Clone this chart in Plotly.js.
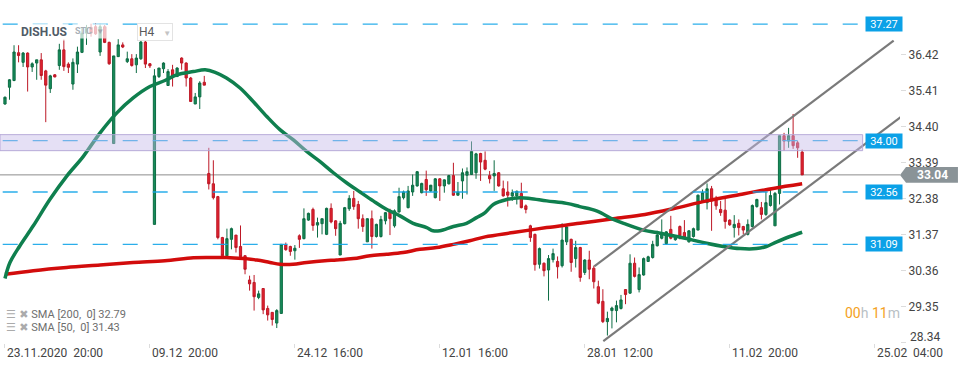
<!DOCTYPE html>
<html><head><meta charset="utf-8">
<script src="https://cdn.plot.ly/plotly-3.0.1.min.js"></script>
<style>html,body{margin:0;padding:0;background:#fff}#chart{width:970px;height:368px}</style>
</head><body><div id="chart"></div>
<script>
// H4 candles, DISH.US
const open  = [35.03,35.50,35.69,36.47,36.20,36.46,36.07,36.18,36.27,35.96,35.46,35.85,36.11,36.55,36.15,35.59,36.15,36.48,37.02,37.18,37.20,36.49,37.20,36.76,33.92,36.36,36.69,36.22,36.30,36.13,36.30,36.77,36.16,31.65,35.80,36.02,35.55,35.99,35.80,36.32,36.18,35.76,35.03,35.23,35.64,33.08,32.79,32.43,31.28,30.77,31.23,31.35,31.03,30.77,30.09,30.02,29.60,29.85,29.29,29.18,28.88,29.15,31.07,31.03,30.91,31.33,31.25,31.77,32.07,31.63,31.67,31.37,32.10,31.75,30.79,31.67,32.09,32.38,32.21,31.81,31.16,31.81,31.31,31.31,31.75,32.00,31.61,32.00,32.40,32.12,32.56,32.73,32.54,32.91,32.59,32.40,32.93,32.73,32.79,33.02,32.47,32.87,33.03,33.05,33.10,33.64,33.45,33.02,33.01,33.10,32.65,32.56,32.45,32.45,32.52,32.17,31.61,31.37,30.53,30.56,30.37,30.66,30.61,30.49,31.16,31.23,30.69,31.00,30.30,30.65,30.42,29.90,29.49,28.92,29.23,29.23,29.29,29.82,29.72,30.56,29.82,30.23,30.61,30.72,31.05,31.26,31.11,31.51,31.22,31.59,31.42,31.16,31.31,31.49,32.28,32.26,32.65,32.35,32.07,32.05,31.77,31.56,31.68,31.59,31.37,31.59,32.15,32.12,31.93,32.18,31.61,32.52,34.14,33.99,34.14,33.94,33.68];
const high  = [35.24,35.73,36.68,36.68,36.49,36.48,36.20,36.27,36.46,35.99,35.85,35.87,36.72,36.85,36.20,36.31,36.64,37.18,37.25,37.28,37.30,37.28,37.25,36.78,36.38,36.85,36.76,36.50,36.43,36.43,36.80,36.94,36.18,36.01,36.04,36.20,36.01,36.13,36.06,36.34,36.20,35.79,35.34,35.67,35.82,33.80,33.45,32.45,31.30,31.53,31.56,31.35,31.62,30.79,30.21,30.23,29.79,29.85,29.37,29.18,29.27,31.09,31.14,31.05,31.07,31.37,32.10,31.98,32.12,31.84,31.81,32.12,32.24,31.77,31.75,32.14,32.47,32.59,32.31,31.93,31.82,32.04,31.67,31.89,32.00,32.09,32.07,32.68,32.60,32.73,33.05,33.15,32.82,33.16,32.76,32.95,32.95,32.91,33.04,33.38,32.84,33.22,33.25,33.98,33.66,33.66,33.70,33.15,33.45,33.12,32.88,32.86,32.63,32.60,32.82,32.21,31.64,31.39,31.00,30.58,30.79,30.97,30.75,31.68,31.63,31.25,31.19,31.02,30.67,30.91,30.49,30.07,29.83,29.20,29.34,29.51,29.67,29.83,30.81,30.72,30.44,30.72,30.77,31.19,31.47,31.79,31.46,31.89,31.33,31.62,31.77,31.49,31.56,32.49,32.63,32.80,32.73,32.45,32.31,32.37,31.79,31.91,31.79,31.61,31.79,32.21,32.37,32.28,32.56,32.63,32.56,34.14,34.22,34.36,34.75,33.99,33.75];
const low   = [35.01,35.15,35.67,36.20,36.07,35.38,35.93,35.71,35.71,34.52,35.34,35.78,35.99,35.96,35.90,35.43,35.90,36.46,36.69,36.92,36.97,36.38,36.74,36.13,33.92,36.35,36.60,36.18,36.08,35.90,36.27,36.04,36.04,31.65,35.76,35.90,35.55,35.52,35.79,35.99,35.52,35.10,35.03,34.89,35.56,32.63,32.35,31.23,30.72,30.75,30.95,30.86,30.72,30.25,29.79,29.23,29.55,29.13,28.95,28.81,28.74,29.15,30.91,30.77,30.66,30.99,31.23,31.75,31.47,31.28,31.37,31.35,31.68,31.33,30.79,31.65,32.03,32.06,31.53,31.44,31.16,30.97,31.28,31.28,31.65,31.35,31.56,31.98,32.35,32.10,32.45,32.71,32.52,32.45,32.56,32.38,32.31,32.54,32.77,32.45,32.46,32.37,32.49,33.04,32.93,32.87,33.17,32.80,32.59,32.71,32.43,32.15,32.31,32.21,32.10,31.96,31.16,30.35,30.41,30.19,29.51,30.58,30.13,30.44,31.07,30.32,30.44,30.04,30.23,30.11,29.85,29.41,28.88,28.53,28.73,28.90,29.26,29.41,29.70,30.16,29.74,30.21,30.60,30.69,31.03,31.23,31.08,31.23,31.19,31.23,31.23,31.14,31.28,31.49,32.26,32.07,31.47,32.06,31.89,31.53,31.61,31.28,31.34,31.37,31.34,31.56,32.12,31.79,31.89,32.15,31.61,32.21,33.72,33.80,33.77,33.52,33.04];
const close = [35.22,35.71,36.49,36.39,36.46,36.07,36.16,36.27,35.83,35.56,35.82,35.79,36.55,36.08,36.06,36.20,36.49,37.02,37.16,37.02,37.00,37.20,36.76,36.16,36.38,36.69,36.63,36.30,36.11,36.32,36.77,36.15,36.10,35.82,36.04,36.18,35.94,35.79,36.04,36.18,35.76,35.10,35.23,35.62,35.56,32.79,32.40,31.28,30.77,31.25,31.53,31.00,30.74,30.39,29.98,29.62,29.70,29.25,29.11,28.98,29.23,31.09,30.94,30.89,30.98,31.23,31.81,31.96,31.62,31.70,31.81,32.10,31.72,31.53,31.68,32.12,32.38,32.15,31.81,31.59,31.81,31.31,31.65,31.79,31.98,31.81,32.03,32.43,32.56,32.59,32.75,33.13,32.80,32.62,32.75,32.93,32.73,32.90,33.02,32.47,32.56,33.10,33.13,33.70,33.63,33.40,33.20,32.93,33.08,32.73,32.45,32.47,32.54,32.58,32.12,32.07,31.28,30.52,30.97,30.35,30.69,30.83,30.46,31.21,31.58,30.58,31.00,30.16,30.65,30.39,30.04,29.44,28.92,29.01,29.30,29.37,29.53,29.68,30.56,30.19,30.24,30.69,30.74,31.09,31.35,31.42,31.44,31.26,31.30,31.33,31.28,31.47,31.53,32.47,32.54,32.65,32.31,32.17,31.98,31.73,31.64,31.65,31.56,31.49,31.65,32.18,32.35,31.93,32.26,32.46,32.52,34.14,33.99,34.14,33.86,33.80,33.04];

const sma200Idx = [0,6.25,13.6,21,28.3,35.3,41.6,45.3,48.9,52.6,55.6,58.5,60.7,63.6,66.6,70.6,73.2,76.9,80.6,84.3,87.9,91.6,95.3,99,102.6,106,112.2,119.6,126.9,134.3,141.3,147.5,154.9,162.3,169.6,176];
const sma200Val = [30.25,30.35,30.44,30.51,30.58,30.63,30.71,30.72,30.72,30.69,30.65,30.58,30.53,30.53,30.58,30.63,30.65,30.69,30.77,30.81,30.86,30.95,31.00,31.09,31.19,31.30,31.42,31.56,31.68,31.81,31.93,32.09,32.31,32.49,32.66,32.79];
const sma50Idx = [0,1.1,3.3,6.25,9.9,13.6,17.3,21,24.7,28.3,32,35.3,37.9,41.6,44.2,46.4,48.9,51.9,54.8,57.8,60.7,63.6,66.6,69.5,72.5,75.4,78.4,81.3,84.3,87.2,90.1,93.1,94.5,96,99,101.9,104.1,106,107.8,110.8,113.7,115.9,119.6,124,126.9,130.6,134.3,137.2,140.9,143.9,147.5,151.2,154.9,158.6,162.3,165.9,168.1,170.4,173.3,176];
const sma50Val = [30.13,30.58,31.05,31.61,32.35,33.00,33.56,34.22,34.78,35.20,35.52,35.69,35.85,35.94,35.99,35.92,35.76,35.48,35.10,34.68,34.31,34.03,33.70,33.42,33.10,32.82,32.56,32.31,32.07,31.89,31.68,31.56,31.47,31.47,31.59,31.68,31.84,31.98,32.21,32.35,32.40,32.38,32.31,32.24,32.15,32.03,31.79,31.65,31.49,31.42,31.33,31.23,31.12,31.03,30.97,30.97,31.03,31.16,31.31,31.43];

const chanUpperIdx = [130.1,196.2], chanUpperVal = [30.47,36.81];
const chanLowerIdx = [132.1,197.8], chanLowerVal = [28.37,34.67];

const levels = [37.27,34.00,32.56,31.09];
const zoneLow = 33.72, zoneHigh = 34.17;
const lastPrice = 33.04;
const yTicks = [28.34,29.35,30.36,31.37,32.38,33.39,34.40,35.41,36.42];
const xTickIdx = [0,32,64,96,128,160,192];
const xTickText = ['23.11.2020\u00a0 20:00','09.12\u00a0 20:00','24.12\u00a0 16:00','12.01\u00a0 16:00','28.01\u00a0 12:00','11.02\u00a0 20:00','25.02\u00a0 04:00'];
const legendLines = ['SMA [200,\u00a0 0] 32.79','SMA [50,\u00a0 0] 31.43'];
const symbol = 'DISH.US', sub = 'STC', tf = 'H4';

const idx = open.map((_, i) => i);
const F = 'Roboto, "Open Sans", sans-serif';
const YR = [28.32, 37.95];
const PH = 343; // plot height px
const py = px => 1 - px / PH;
const pv = v => (v - YR[0]) / (YR[1] - YR[0]);

const traces = [
  {type:'candlestick', x: idx, open, high, low, close, whiskerwidth:0, hoverinfo:'skip',
   increasing:{line:{color:'#0d6c44', width:1}, fillcolor:'#168c5a'},
   decreasing:{line:{color:'#bd1826', width:1}, fillcolor:'#e2222f'}},
  {type:'scatter', mode:'lines', x: sma200Idx, y: sma200Val, line:{color:'#d20c0c', width:3.5, shape:'spline'}, hoverinfo:'skip'},
  {type:'scatter', mode:'lines', x: sma50Idx, y: sma50Val, line:{color:'#0f7f4e', width:3.5, shape:'spline'}, hoverinfo:'skip'},
  {type:'scatter', mode:'lines', x: chanUpperIdx, y: chanUpperVal, line:{color:'#7a7a7a', width:2.2}, hoverinfo:'skip'},
  {type:'scatter', mode:'lines', x: chanLowerIdx, y: chanLowerVal, line:{color:'#7a7a7a', width:2.2}, hoverinfo:'skip'}
];

const shapes = [
  {type:'line', xref:'paper', x0:0, x1:1, yref:'y', y0:lastPrice, y1:lastPrice, line:{color:'#8c8c8c', width:1}, layer:'below'}
];
levels.forEach(lv => shapes.push({type:'line', xref:'paper', x0:0.003, x1:0.959, yref:'y', y0:lv, y1:lv,
  line:{color:'rgba(20,165,232,0.9)', width:1.3, dash:'15px,15px'}, layer:'above'}));
shapes.push({type:'rect', xref:'paper', x0:0, x1:0.9585, yref:'y', y0:zoneLow, y1:zoneHigh,
  fillcolor:'rgba(198,186,232,0.45)', line:{color:'rgba(178,164,214,0.9)', width:1}, layer:'above'});
const hh = 0.22;
const pT = pv(lastPrice + hh), pM = pv(lastPrice), pB = pv(lastPrice - hh);
shapes.push({type:'path', xref:'paper', yref:'paper',
  path:`M 1,${pM} L 1.0067,${pT} L 1.0644,${pT} L 1.0644,${pB} L 1.0067,${pB} Z`,
  fillcolor:'#8a9397', line:{width:0}, layer:'above'});

const annotations = [];
xTickIdx.forEach((v, k) => annotations.push({x:v, xref:'x', y:0, yref:'paper', yanchor:'top', xanchor:'left', yshift:-1,
  text:xTickText[k], showarrow:false, font:{family:F, size:12, color:'#444'}}));
// lowest y tick label drawn slightly raised (as in the source)
annotations.push({x:1, xref:'paper', y:yTicks[0], yref:'y', xanchor:'left', xshift:8, yshift:5, text:yTicks[0].toFixed(2),
  showarrow:false, font:{family:F, size:12, color:'#444'}});
levels.forEach(lv => annotations.push({x:0.982, xref:'paper', xanchor:'center', y:lv, yref:'y', text:lv.toFixed(2), showarrow:false,
  font:{family:F, size:11, color:'#fff'}, bgcolor:'#0ba1e7', borderpad:1, width:34, height:12}));
annotations.push({x:1.0356, xref:'paper', xanchor:'center', y:lastPrice, yref:'y', text:'<b>'+lastPrice.toFixed(2)+'</b>', showarrow:false,
  font:{family:F, size:12, color:'#fff'}});
// header
annotations.push({x:19/900, xref:'paper', y:py(23), yref:'paper', xanchor:'left', text:'<b>'+symbol+'</b>', showarrow:false,
  font:{family:F, size:12, color:'#505b67'}, bgcolor:'rgba(255,255,255,0.8)', borderpad:1});
annotations.push({x:72/900, xref:'paper', y:py(23), yref:'paper', xanchor:'left', align:'left',
  text:'<b>'+sub+'</b>\u00a0 <span style="font-size:8px;color:#a0a6ac">▼</span>', showarrow:false,
  font:{family:F, size:9, color:'#a9b0b7'}, bgcolor:'rgba(255,255,255,0.7)', borderpad:2});
annotations.push({x:154.5/900, xref:'paper', xanchor:'center', y:py(23.5), yref:'paper', text:tf+'\u00a0\u00a0 <span style="font-size:8px;color:#c4c4c4">▼</span>', showarrow:false,
  font:{family:F, size:12, color:'#5a5a5a'}, bgcolor:'#fff', bordercolor:'#e3e3e3', borderwidth:1, borderpad:1, width:32, height:14});
// legend
legendLines.forEach((t, k) => annotations.push({x:5/900, xref:'paper', y:py(k ? 335 : 321.7), yref:'paper', xanchor:'left', borderpad:0,
  text:'<span style="color:#ababab;font-family:DejaVu Sans">☰ ✖</span> '+t,
  showarrow:false, font:{family:F, size:11, color:'#6e6e6e'}}));
// countdown
annotations.push({x:843/900, xref:'paper', y:py(323), yref:'paper', xanchor:'left',
  text:'<span style="color:#f4a122">00</span>h <span style="color:#f4a122">11</span>m', showarrow:false,
  font:{family:F, size:14, color:'#b9bfc5'}});

const layout = {
  width:970, height:368, margin:{l:0, r:70, t:0, b:25},
  paper_bgcolor:'#fff', plot_bgcolor:'#fff', showlegend:false,
  xaxis:{range:[-1.10,197.6], showgrid:false, zeroline:false, showline:false, tickvals:xTickIdx, ticks:'outside', ticklen:4,
    tickcolor:'#dcdcdc', showticklabels:false, rangeslider:{visible:false}},
  yaxis:{side:'right', range:YR, showgrid:false, zeroline:false, showline:false, tickvals:yTicks,
    ticktext:yTicks.map((v, k) => k === 0 ? '' : v.toFixed(2)), ticks:'outside', ticklen:5, tickcolor:'#dcdcdc',
    tickfont:{family:F, size:12, color:'#444'}},
  shapes, annotations
};
Plotly.newPlot('chart', traces, layout, {staticPlot:true, displayModeBar:false});
</script></body></html>
